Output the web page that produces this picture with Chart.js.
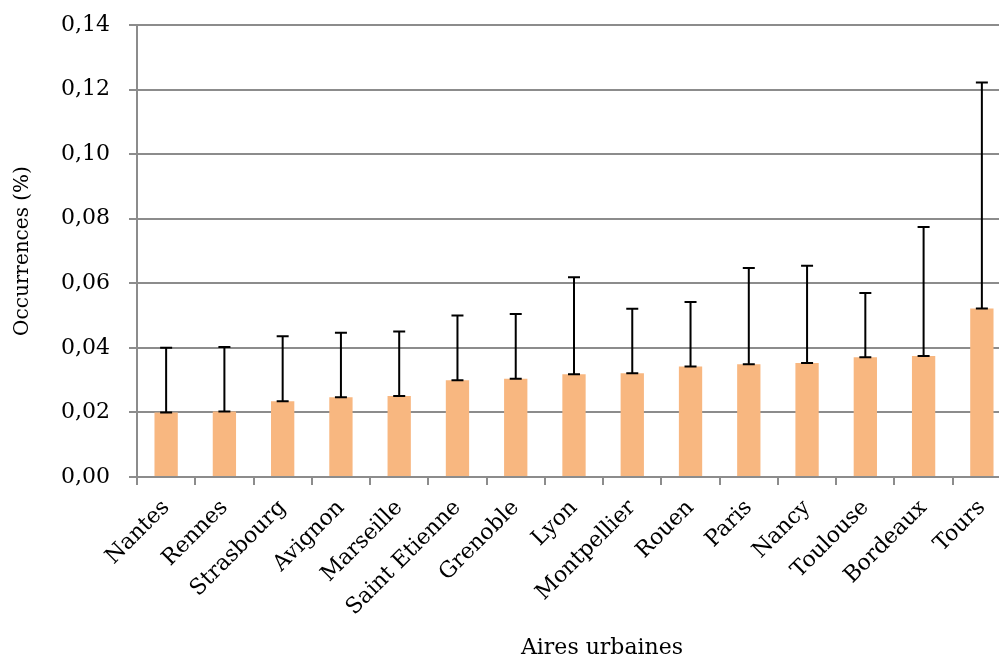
<!DOCTYPE html>
<html>
<head>
<meta charset="utf-8">
<script src="https://cdn.jsdelivr.net/npm/chart.js@4/dist/chart.umd.min.js"></script>
<style>
  html, body { margin: 0; padding: 0; overflow: hidden; background: #ffffff; }
  #wrap { width: 1016px; height: 657px; position: relative; }
</style>
</head>
<body>
<div id="wrap"><canvas id="c"></canvas></div>
<script>
const categories = ["Nantes", "Rennes", "Strasbourg", "Avignon", "Marseille", "Saint Etienne", "Grenoble", "Lyon", "Montpellier", "Rouen", "Paris", "Nancy", "Toulouse", "Bordeaux", "Tours"];
const values = [0.0200, 0.0203, 0.0235, 0.0247, 0.0251, 0.0300, 0.0304, 0.0318, 0.0321, 0.0342, 0.0349, 0.0353, 0.0371, 0.0375, 0.0522];
const errors = [0.0200, 0.0200, 0.0201, 0.0200, 0.0200, 0.0200, 0.0201, 0.0301, 0.0200, 0.0200, 0.0298, 0.0301, 0.0199, 0.0399, 0.0700];
const yTickLabels = ["0,00", "0,02", "0,04", "0,06", "0,08", "0,10", "0,12", "0,14"];
const yTitle = "Occurrences (%)";
const xTitle = "Aires urbaines";

const FONT = "'DejaVu Serif', serif";
const GRID = "#8c8c8c";

const errorBars = {
  id: "errorBars",
  afterDatasetsDraw(chart) {
    const meta = chart.getDatasetMeta(0);
    const ys = chart.scales.y;
    const ctx = chart.ctx;
    ctx.save();
    ctx.strokeStyle = "#000000";
    ctx.lineWidth = 2;
    meta.data.forEach((bar, i) => {
      const x = bar.x;
      const y0 = ys.getPixelForValue(values[i]);
      const y1 = ys.getPixelForValue(values[i] + errors[i]);
      ctx.beginPath();
      ctx.moveTo(x, y0); ctx.lineTo(x, y1);
      ctx.moveTo(x - 6, y1); ctx.lineTo(x + 6, y1);
      ctx.moveTo(x - 6, y0); ctx.lineTo(x + 6, y0);
      ctx.stroke();
    });
    ctx.restore();
  }
};

const xTitlePlugin = {
  id: "xTitle",
  afterDraw(chart) {
    const ctx = chart.ctx;
    ctx.save();
    ctx.font = "22px " + FONT;
    ctx.fillStyle = "#000000";
    ctx.textAlign = "center";
    ctx.textBaseline = "alphabetic";
    ctx.fillText(xTitle, 602, 654);
    ctx.restore();
  }
};

new Chart(document.getElementById("c"), {
  type: "bar",
  data: {
    labels: categories,
    datasets: [{
      data: values,
      backgroundColor: "#F8B780",
      borderWidth: 0,
      barPercentage: 0.4,
      categoryPercentage: 1.0
    }]
  },
  options: {
    responsive: true,
    maintainAspectRatio: false,
    animation: false,
    layout: { padding: { top: 25, right: 5, left: 0, bottom: 0 } },
    plugins: { legend: { display: false }, tooltip: { enabled: false } },
    scales: {
      x: {
        offset: true,
        grid: { display: true, drawOnChartArea: false, drawTicks: true, tickLength: 8, color: GRID, lineWidth: 2, offset: true },
        border: { display: true, color: GRID, width: 2 },
        ticks: {
          autoSkip: false, maxRotation: 45, minRotation: 45, padding: 10,
          color: "#000000", font: { family: FONT, size: 22 }
        },
        afterFit: s => { s.height = 180; s.paddingLeft = 0; s.paddingRight = 0; }
      },
      y: {
        min: 0, max: 0.14,
        grid: { color: GRID, lineWidth: 2, tickLength: 8, drawTicks: true },
        border: { display: true, color: GRID, width: 2 },
        ticks: {
          stepSize: 0.02, padding: 19, color: "#000000",
          font: { family: FONT, size: 22 },
          callback: (v, i) => yTickLabels[i]
        },
        title: {
          display: true, text: yTitle, color: "#000000",
          font: { family: FONT, size: 20, lineHeight: 1 },
          padding: { top: 13, bottom: 0 }
        },
        afterFit: s => { s.width = 137; s.paddingTop = 0; s.paddingBottom = 0; }
      }
    }
  },
  plugins: [errorBars, xTitlePlugin]
});
</script>
</body>
</html>
